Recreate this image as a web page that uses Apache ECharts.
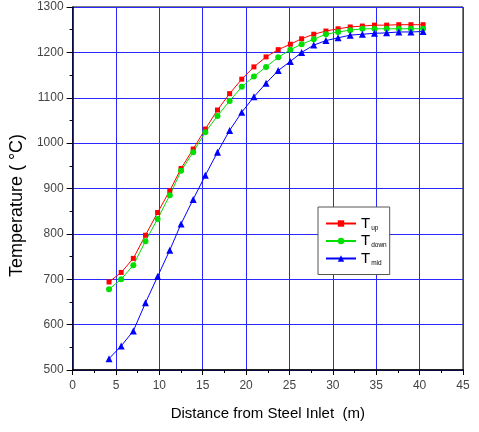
<!DOCTYPE html>
<html>
<head>
<meta charset="utf-8">
<script src="https://cdn.jsdelivr.net/npm/echarts@6/dist/echarts.min.js"></script>
<style>
  html, body { margin: 0; padding: 0; background: #fff; }
  #chart { width: 479px; height: 432px; }
</style>
</head>
<body>
<div id="chart"></div>
<script>
// distance from inlet (m)
var xs = [4.2, 5.6, 7.0, 8.4, 9.8, 11.2, 12.5, 13.9, 15.3, 16.7, 18.1, 19.5, 20.9, 22.3,
          23.7, 25.1, 26.4, 27.8, 29.2, 30.6, 32.0, 33.4, 34.8, 36.2, 37.6, 39.0, 40.4];
var tUp = [694, 715, 746, 797, 847, 895, 944, 987, 1031, 1073, 1109, 1141, 1168, 1190,
           1206, 1218, 1230, 1240, 1247, 1252, 1256, 1258, 1260, 1260, 1261, 1261, 1261];
var tDown = [678, 700, 731, 784, 833, 885, 939, 980, 1024, 1060, 1093, 1124, 1147, 1168,
             1189, 1206, 1218, 1229, 1240, 1245, 1249, 1252, 1252, 1252, 1252, 1252, 1252];
var tMid = [525, 553, 586, 648, 706, 764, 822, 876, 929, 980, 1028, 1068, 1102, 1132,
            1160, 1180, 1200, 1216, 1226, 1232, 1238, 1240, 1242, 1243, 1245, 1245, 1246];

function pairs(ys) {
    var out = []
    for (var i = 0; i < xs.length; i++) out.push([xs[i], ys[i]])
    return out
}

var chart = echarts.init(document.getElementById('chart'))
var font = 'Liberation Sans, Arial, sans-serif'

function lineSeries(name, color, symbol, size, ys) {
    return {
        name: name,
        type: 'line',
        symbol: symbol,
        symbolSize: size,
        showAllSymbol: true,
        lineStyle: { color: color, width: 1 },
        itemStyle: { color: color },
        data: pairs(ys)
    }
}

chart.setOption({
    animation: false,
    backgroundColor: '#fff',
    grid: {
        left: 70, right: 16, top: 7, bottom: 62,
        show: true, borderColor: '#000', borderWidth: 1
    },
    legend: {
        orient: 'vertical',
        left: 318, top: 207,
        padding: [9, 3, 8, 7],
        itemWidth: 30, itemHeight: 8, itemGap: 2,
        borderColor: '#555', borderWidth: 1,
        backgroundColor: '#fff',
        data: ['Tup', 'Tdown', 'Tmid'],
        formatter: function (name) {
            return '{t|T}{s|' + name.slice(1) + '}'
        },
        textStyle: {
            fontFamily: font,
            rich: {
                t: { fontSize: 15, color: '#000', fontFamily: font },
                s: { fontSize: 6.5, color: '#000', fontFamily: font, padding: [9, 0, 0, 1] }
            }
        }
    },
    xAxis: {
        type: 'value',
        min: 0, max: 45, interval: 5,
        name: 'Distance from Steel Inlet  (m)',
        nameLocation: 'middle',
        nameGap: 36,
        nameTextStyle: { fontSize: 15, color: '#000', fontFamily: font },
        axisLine: { lineStyle: { color: '#000', width: 1.5 } },
        axisTick: { show: true, length: 5, inside: false, lineStyle: { color: '#000' } },
        minorTick: { show: true, splitNumber: 2, length: 3, lineStyle: { color: '#000' } },
        axisLabel: { fontSize: 12, color: '#444', margin: 10, fontFamily: font },
        splitLine: { show: true, lineStyle: { color: '#2828ff', width: 1 } }
    },
    yAxis: {
        type: 'value',
        min: 500, max: 1300, interval: 100,
        name: 'Temperature ( \u00b0C)',
        nameLocation: 'middle',
        nameGap: 42,
        nameTextStyle: { fontSize: 18, color: '#000', fontFamily: font, padding: [0, 34, 0, 0] },
        axisLine: { show: true, lineStyle: { color: '#000', width: 1.5 } },
        axisTick: { show: true, length: 6, inside: false, lineStyle: { color: '#000' } },
        minorTick: { show: true, splitNumber: 2, length: 3, lineStyle: { color: '#000' } },
        axisLabel: {
            fontSize: 12, color: '#444', margin: 9, fontFamily: font,
            formatter: function (v) { return String(v) }
        },
        splitLine: { show: true, lineStyle: { color: '#2828ff', width: 1 } }
    },
    series: [
        lineSeries('Tup', '#ff0000', 'rect', 5, tUp),
        lineSeries('Tdown', '#00e000', 'circle', 6, tDown),
        lineSeries('Tmid', '#0000ff', 'triangle', 7, tMid)
    ]
})
</script>
</body>
</html>
